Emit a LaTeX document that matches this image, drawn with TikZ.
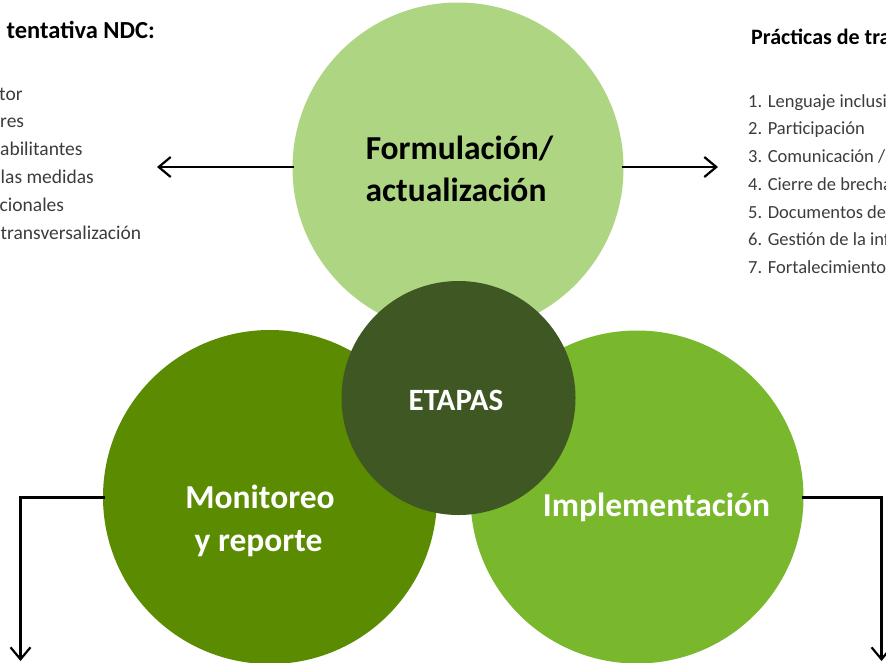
\documentclass[tikz,border=0pt]{standalone}
\usepackage{fontspec}
\setmainfont{Carlito}
\usetikzlibrary{arrows.meta}
\definecolor{cTop}{RGB}{173,213,130}
\definecolor{cMon}{RGB}{90,139,0}
\definecolor{cImp}{RGB}{121,184,44}
\definecolor{cEta}{RGB}{62,87,35}
\definecolor{cTxt}{RGB}{60,60,60}
\tikzset{
  circ/.style={circle, draw=none, inner sep=0pt},
  lbl/.style={inner sep=0pt, anchor=base, font=\bfseries\fontsize{33.5}{40}\selectfont},
  head/.style={inner sep=0pt, anchor=base west, text=black},
  lstL/.style={inner sep=0pt, anchor=base west, text=cTxt, font=\fontsize{19.5}{23}\selectfont},
  lstR/.style={inner sep=0pt, anchor=base west, text=cTxt, font=\fontsize{18.5}{22}\selectfont},
  arr/.style={line width=2.2pt, -{Straight Barb[length=12pt,width=20pt]}}
}
\begin{document}
\begin{tikzpicture}[x=1pt,y=-1pt]
\useasboundingbox (0,0) rectangle (886,662);
\clip (0,0) rectangle (886,662);
% circles
\node[circ, fill=cTop, minimum size=331pt] (top) at (458,168) {};
\node[circ, fill=cMon, minimum size=334pt] (mon) at (270,497) {};
\node[circ, fill=cImp, minimum size=333pt] (imp) at (637,497) {};
\node[circ, fill=cEta, minimum size=234pt] (eta) at (458.5,398) {};
% circle labels
\node[lbl] (f1) at (459.5,159) {Formulación/};
\node[lbl] (f2) at (456,201.5) {actualización};
\node[lbl, text=white] (m1) at (260,508.5) {Monitoreo};
\node[lbl, text=white] (m2) at (258.5,551) {y reporte};
\node[lbl, text=white] (i1) at (656.5,516) {Implementación};
\node[lbl, text=white, font=\bfseries\fontsize{31}{37}\selectfont] (e1) at (456,410) {ETAPAS};
% connectors
\coordinate (tl) at (157,167);
\coordinate (tr) at (718,167);
\coordinate (blc) at (20.5,497.5);
\coordinate (ble) at (20.5,661);
\coordinate (brc) at (881.5,497.5);
\coordinate (bre) at (881.5,661);
\draw[arr] (top.west) ++(2,-1) -- (tl);
\draw[arr] (top.east) ++(-2,-1) -- (tr);
\draw[arr] (mon.west) ++(2,0.5) -- (blc) -- (ble);
\draw[arr] (imp.east) ++(-2,0.5) -- (brc) -- (bre);
% left text
\node[head, font=\bfseries\fontsize{24.5}{29}\selectfont] (lh) at (6.5,38) {tentativa NDC:};
\node[lstL] (l1) at (-1,100) {tor};
\node[lstL] (l2) at (0,127.85) {res};
\node[lstL] (l3) at (0,155.7) {abilitantes};
\node[lstL] (l4) at (0.5,183.55) {las medidas};
\node[lstL] (l5) at (-0.5,211.4) {cionales};
\node[lstL] (l6) at (0.5,239.25) {transversalización};
% right text
\node[head, font=\bfseries\fontsize{22}{26}\selectfont] (rh) at (751,44) {Prácticas de tra};
\node[lstR] (r1) at (748,107) {1. Lenguaje inclusi};
\node[lstR] (r2) at (748,134.75) {2. Participación};
\node[lstR] (r3) at (748,162.5) {3. Comunicación /};
\node[lstR] (r4) at (748,190.25) {4. Cierre de brecha};
\node[lstR] (r5) at (748,218) {5. Documentos de};
\node[lstR] (r6) at (748,245.75) {6. Gestión de la inf};
\node[lstR] (r7) at (748,273.5) {7. Fortalecimiento};
\end{tikzpicture}
\end{document}
